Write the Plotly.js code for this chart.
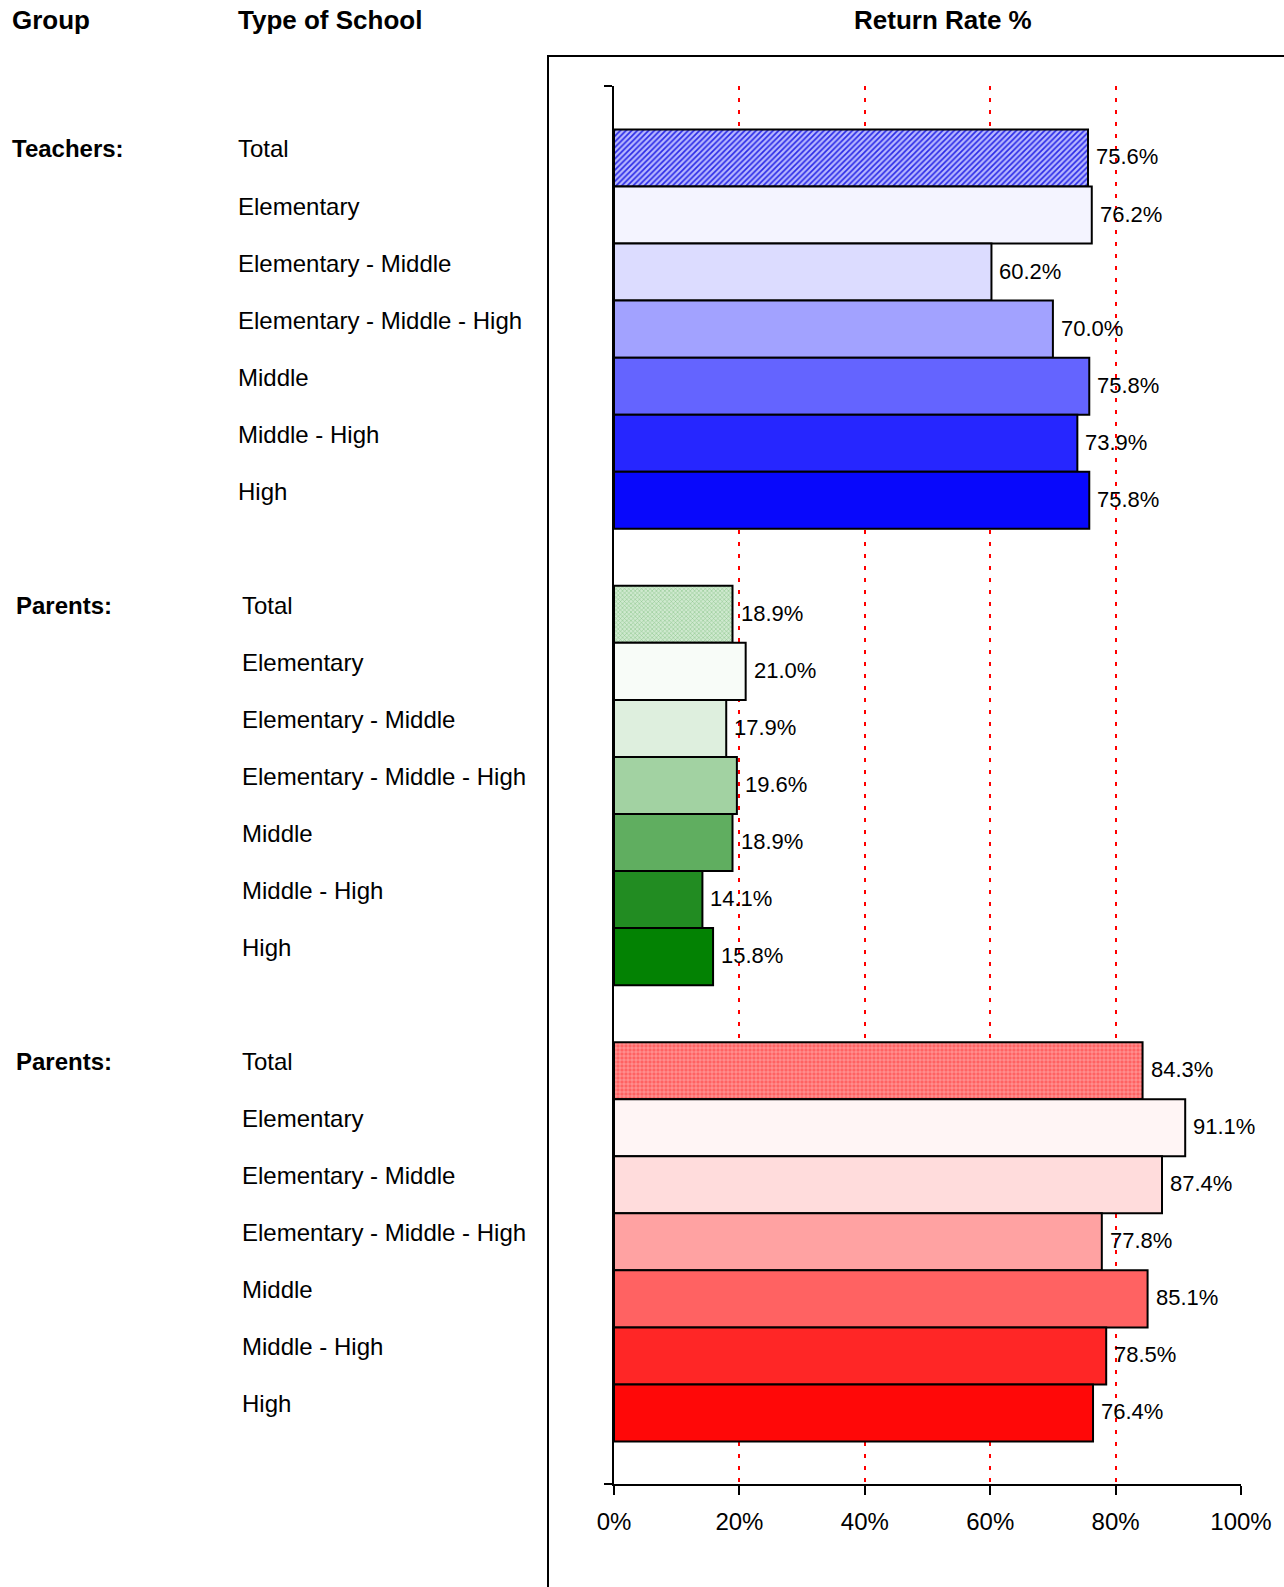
<!DOCTYPE html>
<html>
<head>
<meta charset="utf-8">
<script src="https://cdn.plot.ly/plotly-3.0.1.min.js"></script>
<style>html,body{margin:0;padding:0;background:#fff;}#chart{width:1284px;height:1587px;}</style>
</head>
<body>
<div id="chart"></div>
<script>
// ---- data ----
const groupLabels = ['Teachers:', 'Parents:', 'Parents:'];
const schoolTypes = ['Total', 'Elementary', 'Elementary - Middle', 'Elementary - Middle - High', 'Middle', 'Middle - High', 'High'];
const teachers = [75.6, 76.2, 60.2, 70.0, 75.8, 73.9, 75.8];
const parentsA = [18.9, 21.0, 17.9, 19.6, 18.9, 14.1, 15.8];
const parentsB = [84.3, 91.1, 87.4, 77.8, 85.1, 78.5, 76.4];
const xTicks = [0, 20, 40, 60, 80, 100];
const headers = ['Group', 'Type of School', 'Return Rate %'];

// ---- styles ----
const FONT = 'Arial, "Liberation Sans", sans-serif';
const groupColors = [
  ['#f4f4ff', '#dcdcff', '#a2a2ff', '#6464ff', '#2626ff', '#0808fc'],
  ['#f8fcf8', '#deefde', '#a2d2a2', '#60ae60', '#228c22', '#038203'],
  ['#fff5f5', '#ffdcdc', '#ffa2a2', '#ff6262', '#ff2626', '#ff0808']
];
const totalStyles = [
  {c: '#b8b8ff', shape: '/', fg: '#2a2ae6', size: 4, sol: 0.42},
  {c: '#cfe9cf', shape: 'x', fg: '#86c286', size: 3, sol: 0.3},
  {c: '#ff6262', shape: '+', fg: '#ffcccc', size: 4, sol: 0.22}
];

// ---- geometry helpers (pixel -> paper) ----
const PL = 614, PR = 1241, PT = 86, PB = 1484;
const W = 1284, H = 1587;
const px2x = px => (px - PL) / (PR - PL);
const px2y = py => (PB - py) / (PB - PT);

const seriesList = [teachers, parentsA, parentsB];
const traces = [];
const annotations = [];

seriesList.forEach((vals, g) => {
  const ys = schoolTypes.map((_, i) => g * 8 + i);
  const ts = totalStyles[g];
  // Total bar (patterned)
  traces.push({
    type: 'bar', orientation: 'h',
    x: vals.slice(0, 1), y: ys.slice(0, 1), width: 1,
    marker: {
      color: ts.c,
      pattern: {fillmode: 'overlay', shape: ts.shape, fgcolor: ts.fg, fgopacity: 1, size: ts.size, solidity: ts.sol},
      line: {color: '#000', width: 2}
    },
    hoverinfo: 'skip', showlegend: false
  });
  // remaining school types
  traces.push({
    type: 'bar', orientation: 'h',
    x: vals.slice(1), y: ys.slice(1), width: 1,
    marker: {color: groupColors[g], line: {color: '#000', width: 2}},
    hoverinfo: 'skip', showlegend: false
  });
  vals.forEach((v, i) => {
    annotations.push({
      xref: 'x', yref: 'y', x: v, y: ys[i], xshift: 6, yshift: 1,
      text: v.toFixed(1) + '%', showarrow: false, xanchor: 'left', yanchor: 'middle',
      font: {family: FONT, size: 22, color: '#000'}
    });
  });
  schoolTypes.forEach((t, i) => {
    annotations.push({
      xref: 'paper', yref: 'y', x: px2x(g === 0 ? 236 : 240), y: ys[i],
      yshift: 9, text: t, showarrow: false, xanchor: 'left', yanchor: 'middle',
      font: {family: FONT, size: 24, color: '#000'}
    });
  });
  annotations.push({
    xref: 'paper', yref: 'y', x: px2x(g === 0 ? 10 : 14), y: ys[0],
    yshift: 9, text: '<b>' + groupLabels[g] + '</b>', showarrow: false, xanchor: 'left', yanchor: 'middle',
    font: {family: FONT, size: 24, color: '#000'}
  });
});

const headerX = [10, 236, 943];
const headerAnchor = ['left', 'left', 'center'];
headers.forEach((h, k) => {
  annotations.push({
    xref: 'paper', yref: 'paper', x: px2x(headerX[k]), y: px2y(20),
    text: '<b>' + h + '</b>', showarrow: false, xanchor: headerAnchor[k], yanchor: 'middle',
    font: {family: FONT, size: 26, color: '#000'}
  });
});

const yMin = -1.262, yMax = 23.245;
const layout = {
  width: W, height: H,
  margin: {l: PL, r: W - PR, t: PT, b: H - PB, pad: 0},
  paper_bgcolor: '#fff', plot_bgcolor: '#fff',
  showlegend: false,
  bargap: 0,
  barmode: 'overlay',
  xaxis: {
    range: [0, 100], fixedrange: true,
    tickvals: xTicks, ticktext: xTicks.map(v => v + '%'),
    ticks: 'outside', ticklen: 9, tickwidth: 2, tickcolor: '#000',
    ticklabelstandoff: 6,
    showline: true, linecolor: '#000', linewidth: 2,
    showgrid: true, gridcolor: '#ff0000', gridwidth: 2, griddash: '4px,8px',
    zeroline: false,
    tickfont: {family: FONT, size: 24, color: '#000'}
  },
  yaxis: {
    range: [yMax, yMin], fixedrange: true,
    tickvals: [yMin, yMax], ticktext: ['', ''],
    ticks: 'outside', ticklen: 8, tickwidth: 2, tickcolor: '#000',
    showticklabels: false,
    showline: true, linecolor: '#000', linewidth: 2,
    showgrid: false, zeroline: false
  },
  shapes: [{
    type: 'rect', xref: 'paper', yref: 'paper',
    x0: px2x(548), x1: px2x(1300), y0: px2y(1600), y1: px2y(56),
    line: {color: '#000', width: 2}, fillcolor: 'rgba(0,0,0,0)', layer: 'below'
  }],
  annotations: annotations
};

Plotly.newPlot('chart', traces, layout, {displayModeBar: false, staticPlot: true});
</script>
</body>
</html>
